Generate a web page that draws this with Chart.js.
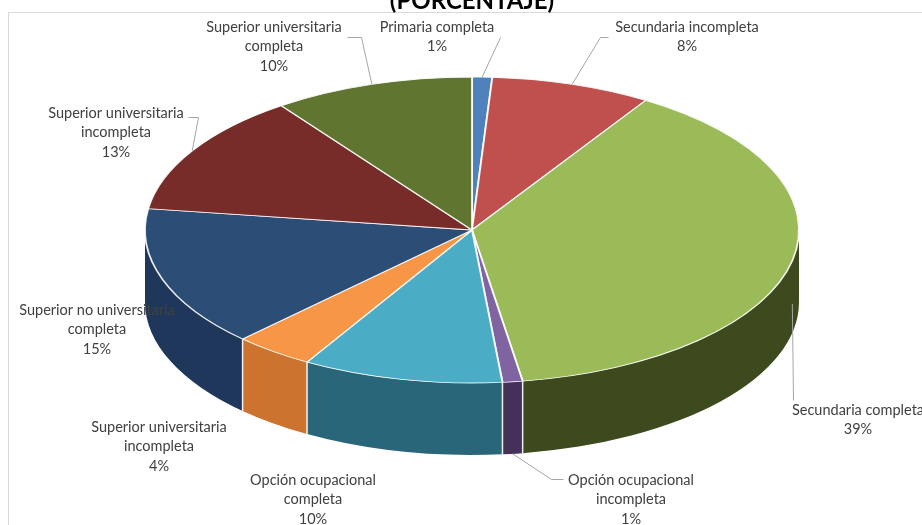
<!DOCTYPE html>
<html lang="es">
<head>
<meta charset="utf-8">
<title>Nivel educativo (porcentaje)</title>
<script src="https://cdn.jsdelivr.net/npm/chart.js@4.4.1/dist/chart.umd.min.js"></script>
<style>
    html, body { margin: 0; padding: 0; background: #fff; }
    #wrap { position: relative; width: 922px; height: 525px; }
</style>
</head>
<body>
<div id="wrap"><canvas id="pie"></canvas></div>
<script>
// Nivel educativo, porcentajes redondeados (clockwise from 12 o'clock)
const categories = [
    'Primaria completa',
    'Secundaria incompleta',
    'Secundaria completa',
    'Opción ocupacional incompleta',
    'Opción ocupacional completa',
    'Superior universitaria incompleta',
    'Superior no universitaria completa',
    'Superior universitaria incompleta',
    'Superior universitaria completa'
];
const percentages = [1, 8, 39, 1, 10, 4, 15, 13, 10];
const labelLines = [
    ['Primaria completa'],
    ['Secundaria incompleta'],
    ['Secundaria completa'],
    ['Opción ocupacional', 'incompleta'],
    ['Opción ocupacional', 'completa'],
    ['Superior universitaria', 'incompleta'],
    ['Superior no universitaria', 'completa'],
    ['Superior universitaria', 'incompleta'],
    ['Superior universitaria', 'completa']
];
const chartTitle = '(PORCENTAJE)';

const topColors = ['#4f81bd', '#c0504d', '#9bbb59', '#8064a2', '#4bacc6', '#f79646', '#2c4d75', '#772c2a', '#5f7530'];
const sideColors = ['#2f4d71', '#73302e', '#3c4a1e', '#45305a', '#2a6679', '#cc7330', '#1f375a', '#4a1b1a', '#39461d'];

// where the flattened pie sits on the page
const disc = { cx: 472, cy: 230, rx: 327, ry: 153, depth: 72 };

// label boxes: x = text centre, y = first line, path = leader points before the rim, level = 0 top rim .. 1 bottom rim
const labelLayout = [
    { x: 437, y: 27, path: [[500, 37]], level: 0 },
    { x: 687, y: 27, path: [[608, 37], [600, 37]], level: 0 },
    { x: 858, y: 410, path: [[793, 400]], level: 0.6 },
    { x: 631, y: 480, path: [[563, 479], [551, 479]], level: 1 },
    { x: 313, y: 480, path: null, level: 0 },
    { x: 159, y: 427, path: null, level: 0 },
    { x: 97, y: 310, path: null, level: 0 },
    { x: 116, y: 113, path: [[188, 117], [198, 117]], level: 0 },
    { x: 274, y: 27, path: [[347, 37], [361, 37]], level: 0 }
];

function rimPoint(angle, level) {
    return [
        disc.cx + disc.rx * Math.cos(angle),
        disc.cy + disc.ry * Math.sin(angle) + level * disc.depth
    ];
}

const pie3d = {
    id: 'pie3d',
    beforeDraw(chart) {
        const ctx = chart.ctx;
        ctx.save();
        ctx.fillStyle = '#ffffff';
        ctx.fillRect(0, 0, chart.width, chart.height);
        ctx.strokeStyle = '#d9d9d9';
        ctx.lineWidth = 1;
        ctx.strokeRect(8.5, 12.5, chart.width + 40, chart.height + 40);
        ctx.restore();
    },
    beforeDatasetsDraw(chart) {
        const ctx = chart.ctx;
        const arcs = chart.getDatasetMeta(0).data;

        // outer walls, only the front half shows
        arcs.forEach((arc, i) => {
            const s = Math.max(arc.startAngle, 0);
            const e = Math.min(arc.endAngle, Math.PI);
            if (e <= s) {
                return;
            }
            ctx.save();
            ctx.beginPath();
            ctx.ellipse(disc.cx, disc.cy, disc.rx, disc.ry, 0, s, e);
            ctx.ellipse(disc.cx, disc.cy + disc.depth, disc.rx, disc.ry, 0, e, s, true);
            ctx.closePath();
            ctx.fillStyle = sideColors[i];
            ctx.fill();
            ctx.restore();
        });

        // white seams between the walls
        ctx.save();
        ctx.strokeStyle = 'rgba(255, 255, 255, 0.9)';
        ctx.lineWidth = 1.5;
        arcs.forEach((arc) => {
            const b = arc.startAngle;
            if (b > 0 && b < Math.PI) {
                const [x, y] = rimPoint(b, 0);
                ctx.beginPath();
                ctx.moveTo(x, y);
                ctx.lineTo(x, y + disc.depth);
                ctx.stroke();
            }
        });
        ctx.restore();

        // top face: the library's arcs squashed into the ellipse
        arcs.forEach((arc) => {
            const p = arc.getProps(['x', 'y', 'outerRadius']);
            ctx.save();
            ctx.translate(disc.cx, disc.cy);
            ctx.scale(disc.rx / p.outerRadius, disc.ry / p.outerRadius);
            ctx.translate(-p.x, -p.y);
            arc.draw(ctx);
            ctx.restore();
        });
        return false;
    },
    afterDraw(chart) {
        const ctx = chart.ctx;
        const arcs = chart.getDatasetMeta(0).data;
        ctx.save();

        // leader lines
        ctx.strokeStyle = '#a6a6a6';
        ctx.lineWidth = 1;
        labelLayout.forEach((lay, i) => {
            if (!lay.path) {
                return;
            }
            const arc = arcs[i];
            const mid = (arc.startAngle + arc.endAngle) / 2;
            const end = rimPoint(mid, lay.level);
            ctx.beginPath();
            lay.path.forEach((pt, k) => {
                if (k === 0) {
                    ctx.moveTo(pt[0] + 0.5, pt[1] + 0.5);
                } else {
                    ctx.lineTo(pt[0] + 0.5, pt[1] + 0.5);
                }
            });
            ctx.lineTo(end[0], end[1]);
            ctx.stroke();
        });

        // label text: name lines then the percentage
        ctx.font = '14.5px Lato, "Open Sans", sans-serif';
        ctx.fillStyle = '#404040';
        ctx.textAlign = 'center';
        ctx.textBaseline = 'middle';
        labelLayout.forEach((lay, i) => {
            const lines = labelLines[i].concat([percentages[i] + '%']);
            lines.forEach((line, k) => {
                ctx.fillText(line, lay.x, lay.y + k * 19.5);
            });
        });

        // title, mostly above the top edge
        ctx.font = 'bold 24px Lato, "Open Sans", sans-serif';
        ctx.fillStyle = '#000000';
        ctx.textBaseline = 'alphabetic';
        ctx.fillText(chartTitle, 472, 9);
        ctx.restore();
    }
};

new Chart(document.getElementById('pie'), {
    type: 'pie',
    data: {
        labels: categories,
        datasets: [{
            data: percentages,
            backgroundColor: topColors,
            borderColor: 'rgba(255, 255, 255, 0.9)',
            borderWidth: 1.5
        }]
    },
    options: {
        responsive: true,
        maintainAspectRatio: false,
        animation: false,
        events: [],
        rotation: 0,
        layout: { padding: 0 },
        plugins: {
            legend: { display: false },
            tooltip: { enabled: false }
        }
    },
    plugins: [pie3d]
});
</script>
</body>
</html>
